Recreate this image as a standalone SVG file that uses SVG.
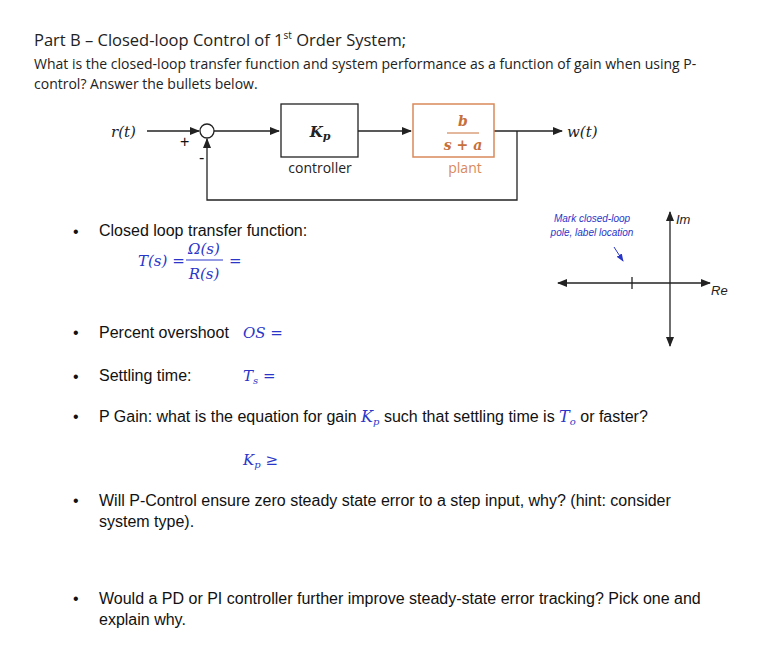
<svg xmlns="http://www.w3.org/2000/svg" width="775" height="665" viewBox="0 0 775 665">
<style>
.h{font-family:"Open Sans","Liberation Sans",sans-serif;fill:#222}
.t{font-family:"Liberation Sans",Arial,sans-serif;font-size:16px;fill:#111}
.m{font-family:"DejaVu Serif","Liberation Serif",serif;font-style:italic;font-size:15px;fill:#2a36c8}
.k{font-family:"DejaVu Serif","Liberation Serif",serif;font-style:italic;fill:#222}
.ln{stroke:#222;stroke-width:1.3;fill:none}
</style>
<defs><marker id="a" markerWidth="10" markerHeight="8" refX="9" refY="4" orient="auto" markerUnits="userSpaceOnUse"><path d="M0,0L10,4L0,8z" fill="#222"/></marker>
<marker id="b" markerWidth="8" markerHeight="6" refX="7" refY="3" orient="auto" markerUnits="userSpaceOnUse"><path d="M0,0L8,3L0,6z" fill="#2a36c8"/></marker></defs>
<rect width="775" height="665" fill="#fff"/>
<text class="h" x="34" y="46" font-size="16.5">Part B – Closed-loop Control of 1<tspan font-size="10" dy="-7">st</tspan><tspan dy="7"> Order System;</tspan></text>
<text class="h" x="34" y="69" font-size="14">What is the closed-loop transfer function and system performance as a function of gain when using P-</text>
<text class="h" x="34" y="89" font-size="14">control?  Answer the bullets below.</text>
<g id="connectors">
<line class="ln" x1="147" y1="131" x2="199" y2="131" marker-end="url(#a)"/>
<line class="ln" x1="214" y1="131" x2="279" y2="131" marker-end="url(#a)"/>
<line class="ln" x1="358" y1="131" x2="411" y2="131" marker-end="url(#a)"/>
<line class="ln" x1="494" y1="131" x2="562" y2="131" marker-end="url(#a)"/>
<polyline class="ln" points="517,131 517,200 207,200 207,139" marker-end="url(#a)"/>
</g>
<g id="sum"><circle cx="207" cy="131" r="7" fill="#fff" stroke="#222" stroke-width="1.3"/>
<text class="t" x="180" y="147" font-size="11">+</text><text class="t" x="199" y="163" font-size="11">-</text></g>
<text class="k" x="111" y="137" font-size="15">r(t)</text>
<text class="k" x="567" y="137" font-size="15" font-style="normal">w(<tspan font-style="italic">t</tspan>)</text>
<g id="controller"><rect x="281" y="104" width="77" height="53" fill="#fff" stroke="#222" stroke-width="1.3"/>
<text class="k" x="320" y="137" font-size="15" font-weight="bold" text-anchor="middle">K<tspan font-size="11" dy="3">p</tspan></text>
<text class="h" x="320" y="173" font-size="14" text-anchor="middle">controller</text></g>
<g id="plant"><rect x="413" y="104" width="81" height="53" fill="#fff" stroke="#d9895b" stroke-width="1.5"/>
<text class="k" x="463" y="126" font-size="14" font-weight="bold" text-anchor="middle" style="fill:#c8703a">b</text>
<line x1="447" y1="133" x2="479" y2="133" stroke="#c8703a" stroke-width="1"/>
<text class="k" x="463" y="150" font-size="14" font-weight="bold" text-anchor="middle" style="fill:#c8703a">s + a</text>
<text class="h" x="465" y="173" font-size="14" text-anchor="middle" style="fill:#d9895b">plant</text></g>
<g font-family="Liberation Sans,sans-serif" font-size="16" fill="#111">
<text x="73" y="237">•</text><text x="73" y="338">•</text><text x="73" y="382">•</text><text x="73" y="422">•</text><text x="73" y="506">•</text><text x="73" y="604">•</text></g>
<text class="t" x="99" y="236">Closed loop transfer function:</text>
<text class="m" x="138" y="266">T(s) =</text>
<text class="m" x="204" y="254" text-anchor="middle">Ω(s)</text>
<line x1="186" y1="260" x2="223" y2="260" stroke="#2a36c8" stroke-width="1"/>
<text class="m" x="204" y="279" text-anchor="middle">R(s)</text>
<text class="m" x="229" y="266">=</text>
<text class="t" x="99" y="338">Percent overshoot</text><text class="m" x="243" y="338">OS =</text>
<text class="t" x="99" y="381">Settling time:</text><text class="m" x="243" y="381">T<tspan font-size="10" dy="3">s</tspan><tspan dy="-3"> =</tspan></text>
<text class="t" x="99" y="422">P Gain: what is the equation for gain <tspan class="k" style="fill:#2a36c8">K<tspan font-size="10" dy="3">p</tspan></tspan><tspan dy="-3"> such that settling time is </tspan><tspan class="k" style="fill:#2a36c8">T<tspan font-size="10" dy="3">o</tspan></tspan><tspan dy="-3"> or faster?</tspan></text>
<text class="m" x="243" y="465">K<tspan font-size="10" dy="3">p</tspan><tspan dy="-3" font-style="normal"> ≥</tspan></text>
<text class="t" x="99" y="506">Will P-Control ensure zero steady state error to a step input, why? (hint: consider</text>
<text class="t" x="99" y="527">system type).</text>
<text class="t" x="99" y="604">Would a PD or PI controller further improve steady-state error tracking? Pick one and</text>
<text class="t" x="99" y="625">explain why.</text>
<g id="plane">
<line class="ln" x1="632" y1="283" x2="558" y2="283" marker-end="url(#a)"/>
<line class="ln" x1="632" y1="283" x2="710" y2="283" marker-end="url(#a)"/>
<line class="ln" x1="670" y1="280" x2="670" y2="212" marker-end="url(#a)"/>
<line class="ln" x1="670" y1="280" x2="670" y2="346" marker-end="url(#a)"/>
<line class="ln" x1="632" y1="277" x2="632" y2="289"/>
<text x="676" y="224" font-size="13" font-style="italic" font-family="Liberation Sans,sans-serif" fill="#222">Im</text>
<text x="711" y="295" font-size="13" font-style="italic" font-family="Liberation Sans,sans-serif" fill="#222">Re</text>
<text font-size="10" font-style="italic" fill="#2a36c8" font-family="Liberation Sans,sans-serif" text-anchor="middle"><tspan x="592" y="222">Mark closed-loop</tspan><tspan x="592" dy="14">pole, label location</tspan></text>
<line x1="614" y1="247" x2="623" y2="261" stroke="#2a36c8" stroke-width="1" marker-end="url(#b)"/>
</g>
</svg>
